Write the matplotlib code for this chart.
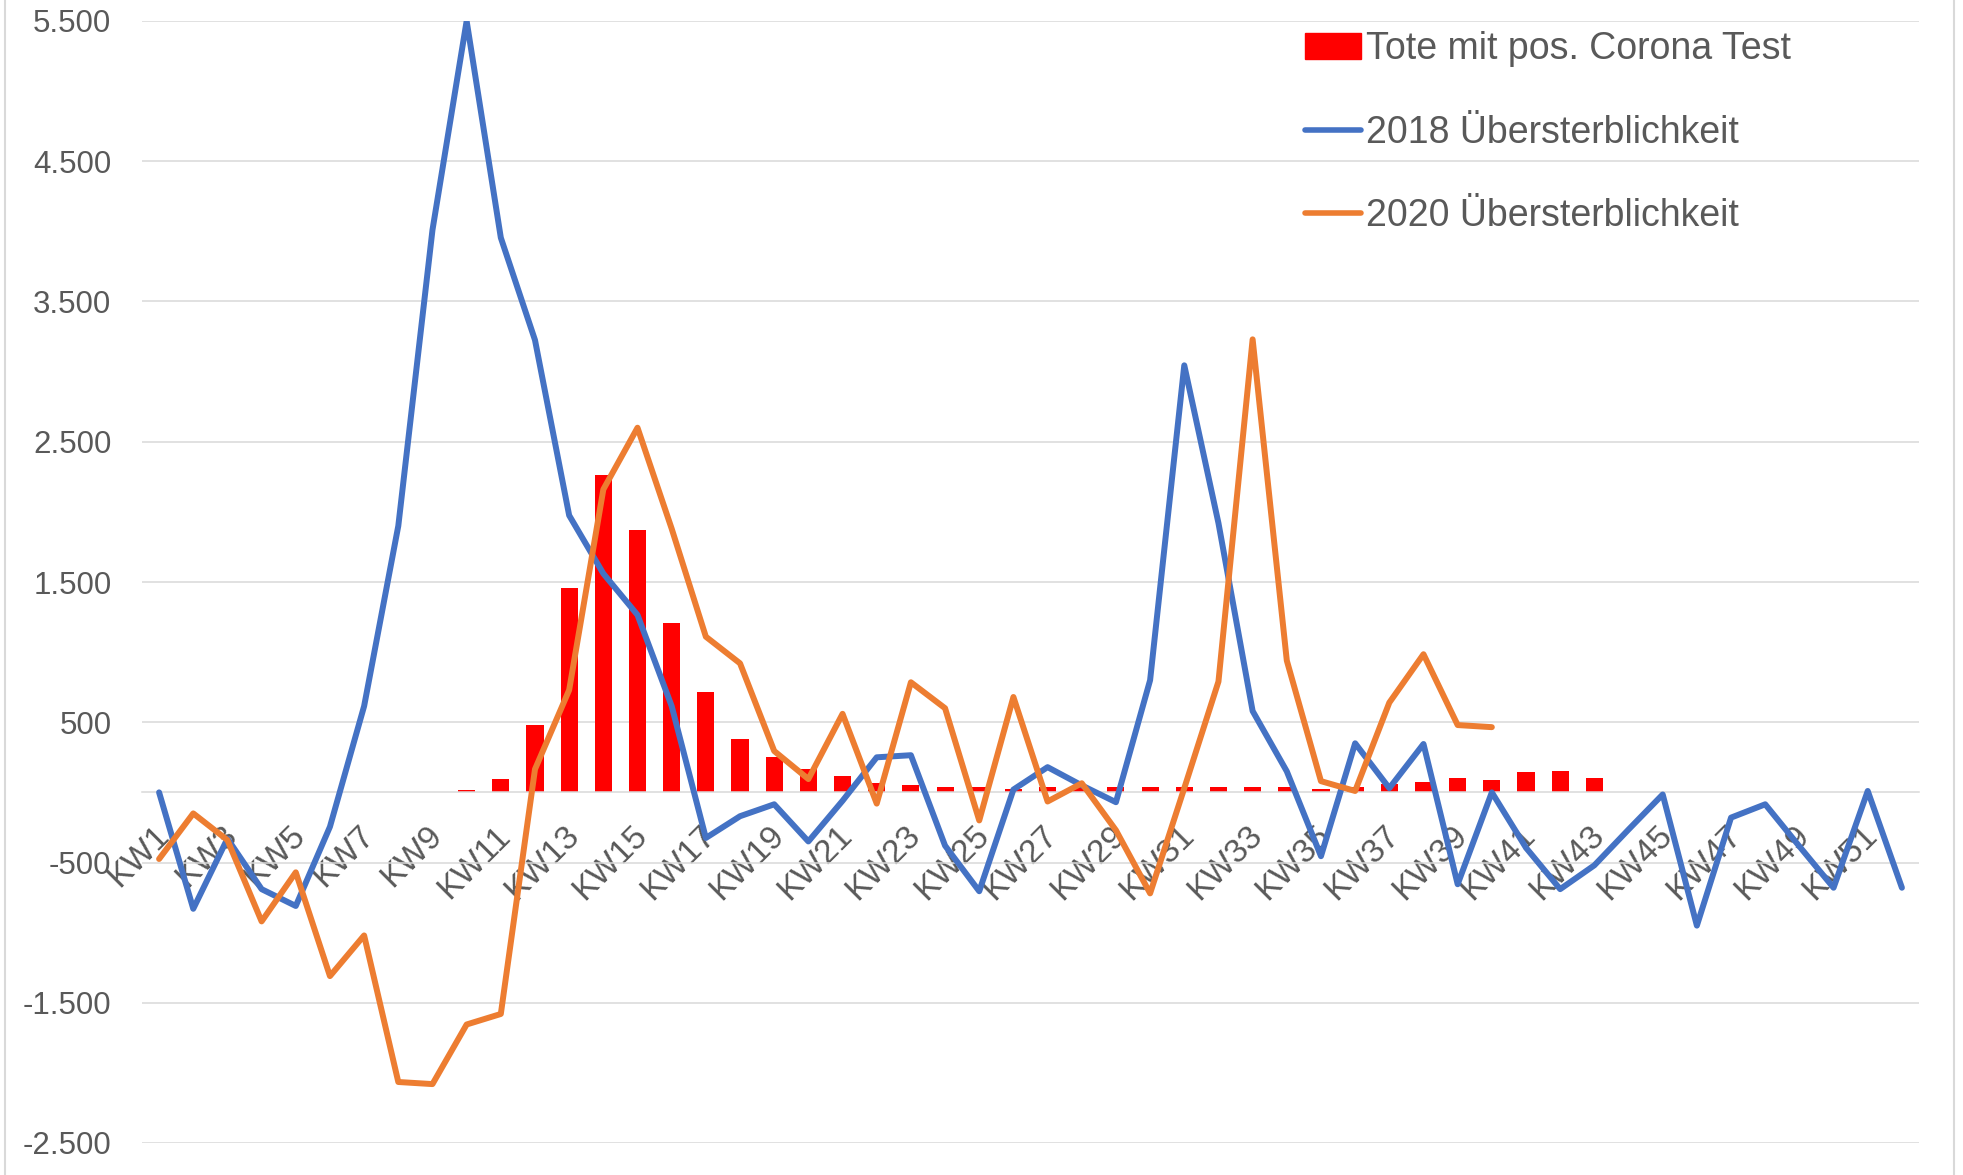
import numpy as np
import matplotlib
matplotlib.use("Agg")
import matplotlib.pyplot as plt
from matplotlib.ticker import FuncFormatter
from matplotlib.transforms import ScaledTranslation
from matplotlib.lines import Line2D

plt.rcParams['font.family'] = ['Liberation Sans', 'DejaVu Sans']

# Kalenderwochen
weeks = [f"KW{i}" for i in range(1, 53)]

# Übersterblichkeit 2018
excess_2018 = [0, -830, -330, -690, -810, -245, 615, 1900, 4010, 5500,
               3955, 3225, 1975, 1560, 1265, 615, -325, -170, -85, -350,
               -60, 250, 265, -380, -705, 20, 180, 50, -70, 800,
               3045, 1920, 580, 150, -455, 350, 30, 345, -655, 0,
               -395, -690, -520, -265, -15, -950, -180, -85, -385, -680,
               10, -680]

# Übersterblichkeit 2020 (bis KW40)
excess_2020 = [-475, -150, -340, -920, -570, -1310, -1020, -2065, -2080, -1655,
               -1580, 165, 730, 2160, 2600, 1880, 1110, 920, 295, 95,
               560, -80, 785, 600, -200, 680, -65, 65, -270, -720,
               30, 790, 3230, 940, 80, 10, 640, 985, 480, 465]

# Tote mit positivem Corona-Test (KW10 bis KW43)
corona_start = 10
corona_deaths = [20, 95, 480, 1460, 2260, 1870, 1210, 715, 380, 255,
                 165, 118, 70, 52, 40, 40, 25, 35, 35, 35,
                 35, 35, 35, 35, 36, 22, 36, 60, 73, 100,
                 87, 146, 152, 103]

legend_labels = ["Tote mit pos. Corona Test", "2018 Übersterblichkeit",
                 "2020 Übersterblichkeit"]

TEXT = '#595959'
GRID = '#D9D9D9'
BLUE = '#4472C4'
ORANGE = '#ED7D31'
RED = '#FF0000'

fig = plt.figure(figsize=(19.63, 11.75), dpi=100)
ax = fig.add_axes([142 / 1963, 1 - 1143 / 1175, (1919 - 142) / 1963, (1143 - 21) / 1175])

x = np.arange(len(weeks))
bar_x = np.arange(corona_start - 1, corona_start - 1 + len(corona_deaths))
ax.bar(bar_x, corona_deaths, width=0.5, color=RED, zorder=2)

kw = dict(lw=4.3, solid_capstyle='round', solid_joinstyle='round', zorder=3)
ax.plot(x, excess_2018, color=BLUE, **kw)
ax.plot(np.arange(len(excess_2020)), excess_2020, color=ORANGE, **kw)

ax.set_xlim(-0.5, len(weeks) - 0.5)
ax.set_ylim(-2500, 5500)
yt = np.arange(-2500, 5501, 1000)
ax.set_yticks(yt)
ax.yaxis.set_major_formatter(FuncFormatter(lambda v, p: f"{v:,.0f}".replace(',', '.')))
ax.yaxis.grid(True, color=GRID, lw=1.1)
ax.set_axisbelow(True)

for s in ['top', 'right', 'left']:
    ax.spines[s].set_visible(False)
ax.spines['bottom'].set_position(('data', 0))
ax.spines['bottom'].set_color(GRID)
ax.spines['bottom'].set_linewidth(1.1)

ax.set_xticks(x[::2])
ax.set_xticklabels(weeks[::2], rotation=45, ha='right', va='top', rotation_mode='anchor')
ax.tick_params(axis='x', length=0, pad=20, labelsize=24, labelcolor=TEXT)
ax.tick_params(axis='y', length=0, pad=22, labelsize=22.5, labelcolor=TEXT)
for lab in ax.get_xticklabels():
    lab.set_transform(lab.get_transform() + ScaledTranslation(-6 / 100, 0, fig.dpi_scale_trans))

handles = [plt.Rectangle((0, 0), 1, 1, color=RED),
           Line2D([], [], color=BLUE, lw=4.0, solid_capstyle='round'),
           Line2D([], [], color=ORANGE, lw=4.0, solid_capstyle='round')]
fig.legend(handles, legend_labels, loc='upper left', bbox_to_anchor=(1305 / 1963, 1 - 31 / 1175),
           frameon=False, fontsize=27, labelcolor=TEXT, handlelength=1.5, handletextpad=0.12,
           labelspacing=1.27, borderpad=0, borderaxespad=0)

# chart area border
fig.add_artist(Line2D([5 / 1963, 5 / 1963], [0, 1], color=GRID, lw=1.5))
fig.add_artist(Line2D([1954 / 1963, 1954 / 1963], [0, 1], color=GRID, lw=1.5))

fig.savefig("out.png", dpi=100, facecolor='white')
